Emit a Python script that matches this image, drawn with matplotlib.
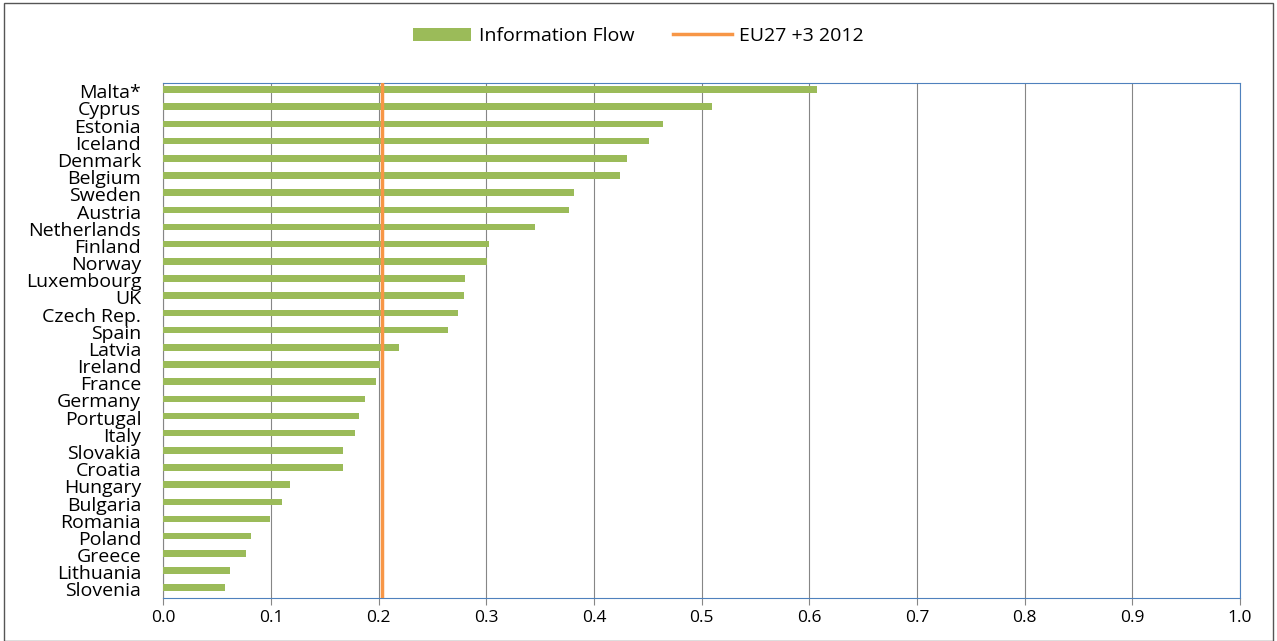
import matplotlib.pyplot as plt
from matplotlib.patches import Rectangle

countries = ['Malta*', 'Cyprus', 'Estonia', 'Iceland', 'Denmark', 'Belgium', 'Sweden', 'Austria',
             'Netherlands', 'Finland', 'Norway', 'Luxembourg', 'UK', 'Czech Rep.', 'Spain', 'Latvia',
             'Ireland', 'France', 'Germany', 'Portugal', 'Italy', 'Slovakia', 'Croatia', 'Hungary',
             'Bulgaria', 'Romania', 'Poland', 'Greece', 'Lithuania', 'Slovenia']
values = [0.607, 0.510, 0.464, 0.451, 0.431, 0.424, 0.381, 0.377, 0.345, 0.302, 0.301, 0.280,
          0.279, 0.274, 0.264, 0.219, 0.201, 0.197, 0.187, 0.182, 0.178, 0.167, 0.167, 0.118,
          0.110, 0.099, 0.081, 0.077, 0.062, 0.057]
eu_avg = 0.203

fig = plt.figure(figsize=(12.77, 6.41), dpi=100)
fig.patches.append(Rectangle((0.003, 0.0), 0.994, 0.995, transform=fig.transFigure,
                             fill=False, edgecolor='#555555', linewidth=1))
ax = fig.add_axes([0.128, 0.067, 0.843, 0.804])

y = list(range(len(countries)))
bars = ax.barh([i - 0.1 for i in y], values, height=0.38, color='#9BBB59', label='Information Flow', zorder=3)
line = ax.axvline(eu_avg, color='#F79646', linewidth=2.5, label='EU27 +3 2012', zorder=4)

ax.set_yticks(y)
ax.set_yticklabels(countries, fontsize=14, fontfamily='Open Sans')
ax.set_ylim(len(countries) - 0.5, -0.5)
ax.set_xlim(0, 1.0)
ax.set_xticks([i / 10 for i in range(11)])
ax.set_xticklabels([f'{i / 10:.1f}' for i in range(11)], fontsize=12.5, fontfamily='Open Sans')
ax.tick_params(axis='y', length=0, pad=16)
ax.tick_params(axis='x', length=5, color='#868686')
ax.grid(axis='x', color='#868686', linewidth=0.8, zorder=0)
for s in ax.spines.values():
    s.set_color('#4F81BD')
    s.set_linewidth(0.8)
ax.spines['left'].set_color('#868686')

fig.legend([bars, line], ['Information Flow', 'EU27 +3 2012'], loc='upper center',
           bbox_to_anchor=(0.5, 0.985), ncol=2, frameon=False,
           prop={'family': 'Open Sans', 'size': 14}, handlelength=3.0, handletextpad=0.4,
           columnspacing=2.0)
fig.savefig('out.png', dpi=100)
